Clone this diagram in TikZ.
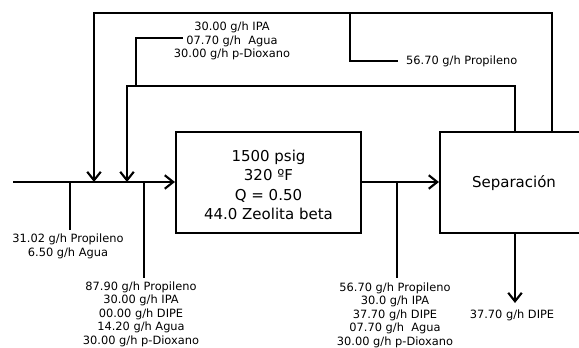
\documentclass[tikz,border=0pt]{standalone}
\usepackage{fontspec}
\setmainfont{DejaVu Sans}
\usetikzlibrary{arrows.meta}
\begin{document}
\begin{tikzpicture}[x=1pt,y=-1pt,
  flow/.style={line width=2.1pt},
  arr/.style={flow,-{Straight Barb[length=8.5pt,width=13.5pt,line width=2.1pt]}},
  unit/.style={draw,line width=2.1pt,inner sep=0pt},
  lbl/.style={font=\fontsize{11.4}{13.5}\selectfont,align=center,inner sep=0pt},
  big/.style={font=\fontsize{15}{19.3}\selectfont,align=center}]
\useasboundingbox (0,0) rectangle (579,348);
\clip (0,0) rectangle (579,348);
% units
\node[unit,minimum width=185pt,minimum height=101pt] (reac) at (268.5,182.5) {};
\node[big] (reactxt) at (268.5,185) {1500 psig\\320 ºF\\Q = 0.50\\44.0 Zeolita beta};
\node[unit,minimum width=150pt,minimum height=101pt] (sep) at (515,182.5) {};
\node[big] (septxt) at (514,183) {Separación};
% coordinates
\coordinate (in) at (13,182);
\coordinate (j1) at (70,182);
\coordinate (j1b) at (70,230);
\coordinate (m1) at (94,182);
\coordinate (m2) at (127,182);
\coordinate (j2) at (144,182);
\coordinate (j2b) at (144,278);
\coordinate (j3) at (397,182);
\coordinate (j3b) at (397,278);
\coordinate (t1) at (552,132);
\coordinate (t2) at (515,132);
\coordinate (b1) at (350,13);
\coordinate (b1e) at (398,61);
\coordinate (b2) at (136,86);
\coordinate (b2e) at (183,38);
\coordinate (sb) at (515,233);
\coordinate (se) at (515,303);
% main line
\draw[arr] (in) -- (reac.west |- in);
\draw[flow] (j1) -- (j1b);
\draw[flow] (j2) -- (j2b);
\draw[arr] (reac.east |- j3) -- (sep.west |- j3);
\draw[flow] (j3) -- (j3b);
% recycle loops
\draw[arr] (t1) -- (t1 |- b1) -- (m1 |- b1) -- (m1);
\draw[flow] (b1) |- (b1e);
\draw[arr] (t2) -- (t2 |- b2) -- (m2 |- b2) -- (m2);
\draw[flow] (b2) |- (b2e);
% product
\draw[arr] (sb) -- (se);
% labels
\node[lbl] (l1) at (232,41) {30.00 g/h IPA\\07.70 g/h~~Agua\\30.00 g/h p-Dioxano};
\node[lbl,anchor=west] (l2) at (406,61) {56.70 g/h Propileno};
\node[lbl] (l3) at (68,246.5) {31.02 g/h Propileno\\6.50 g/h Agua};
\node[lbl] (l4) at (141,314) {87.90 g/h Propileno\\30.00 g/h IPA\\00.00 g/h DIPE\\14.20 g/h Agua\\30.00 g/h p-Dioxano};
\node[lbl] (l5) at (395,315) {56.70 g/h Propileno\\30.0 g/h IPA\\37.70 g/h DIPE\\07.70 g/h~~Agua\\30.00 g/h p-Dioxano};
\node[lbl] (l6) at (512,315) {37.70 g/h DIPE};
\end{tikzpicture}
\end{document}
